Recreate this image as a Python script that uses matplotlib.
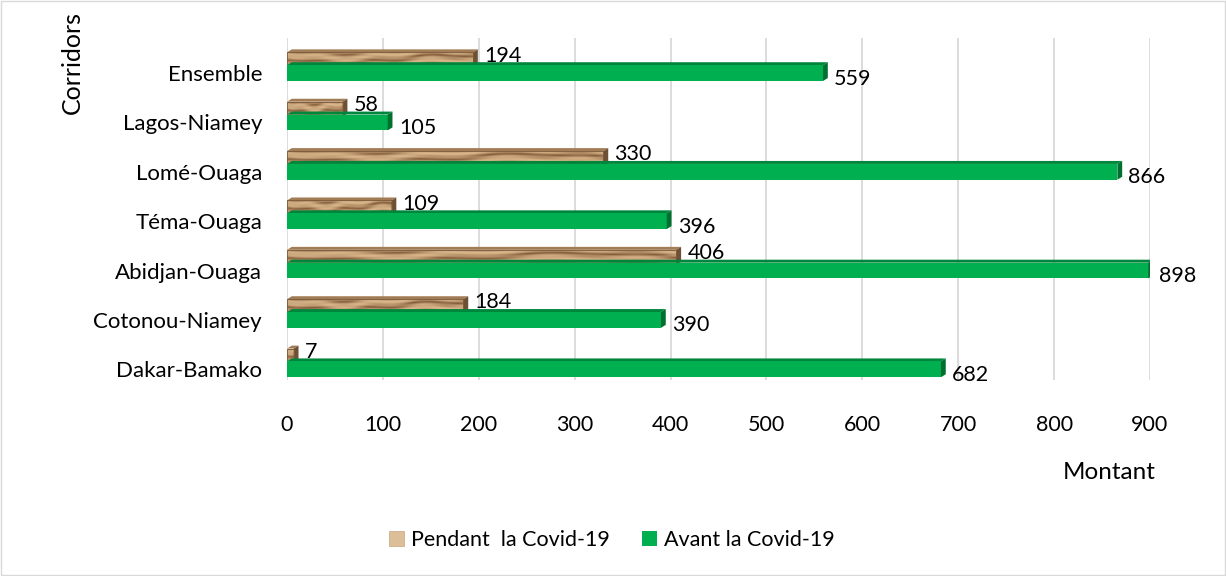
"""Montants par corridor, avant et pendant la Covid-19."""

import matplotlib.pyplot as plt
import numpy as np
from matplotlib.patches import Polygon, Rectangle

plt.rcParams["font.family"] = ["Lato", "DejaVu Sans"]

corridors = ["Dakar-Bamako", "Cotonou-Niamey", "Abidjan-Ouaga", "Téma-Ouaga",
             "Lomé-Ouaga", "Lagos-Niamey", "Ensemble"]
avant = [682, 390, 898, 396, 866, 105, 559]
pendant = [7, 184, 406, 109, 330, 58, 194]

green = "#00b050"
green_dark = "#00863c"
wood_edge = "#7a5a3c"

# wood grain used to fill the "Pendant" bars
gx = np.linspace(0, 60, 600)
gy = np.linspace(0, 1, 40)
GX, GY = np.meshgrid(gx, gy)
grain = np.sin(GY * 9 + 2.5 * np.sin(GX * 0.12) + 0.9 * np.sin(GX * 0.47 + 1.0))
grain += 0.4 * np.sin(GY * 23 + 1.5 * np.sin(GX * 0.3))
wood = np.zeros(grain.shape + (3,))
light = np.array([0.86, 0.72, 0.55])
dark = np.array([0.45, 0.30, 0.17])
t = np.clip((grain + 1.4) / 2.8, 0, 1)
for k in range(3):
    wood[..., k] = dark[k] + (light[k] - dark[k]) * t ** 0.5

fig = plt.figure(figsize=(12.26, 5.76), dpi=100)
ax = fig.add_axes([0.2341, 0.340, 0.7039, 0.594])

y = np.arange(len(corridors))
h_g = 0.32
h_b = 0.30
off_b = 0.27
dx, dy = 5, 0.06

for i, (a, p) in enumerate(zip(avant, pendant)):
    # brown bar (behind)
    yb = y[i] + off_b
    rect = Rectangle((0, yb - h_b / 2), p, h_b, facecolor="none",
                     edgecolor=wood_edge, lw=0.6, zorder=2)
    ax.add_patch(rect)
    im = ax.imshow(wood, extent=(0, max(p, 1) + 60, yb - h_b / 2, yb + h_b / 2),
                   aspect="auto", zorder=1.5, origin="lower", interpolation="bilinear")
    im.set_clip_path(rect)
    ax.add_patch(Polygon([(0, yb + h_b / 2), (p, yb + h_b / 2),
                          (p + dx, yb + h_b / 2 + dy), (dx, yb + h_b / 2 + dy)],
                         closed=True, facecolor="#a27c55", edgecolor="none", zorder=1.6))
    ax.add_patch(Polygon([(p, yb - h_b / 2), (p, yb + h_b / 2),
                          (p + dx, yb + h_b / 2 + dy), (p + dx, yb - h_b / 2 + dy)],
                         closed=True, facecolor="#6e5034", edgecolor="none", zorder=1.6))
    ax.annotate(str(p), (p, yb), xytext=(8, 3), textcoords="offset points",
                ha="left", va="center", fontsize=15.5, color="black", zorder=5)

    # green bar (front)
    ax.barh(y[i], a, height=h_g, color=green, zorder=3)
    top = y[i] + h_g / 2
    ax.add_patch(Polygon([(0, top), (a, top), (a + dx, top + dy), (dx, top + dy)],
                         closed=True, facecolor=green_dark, edgecolor="none", zorder=2.9))
    ax.add_patch(Polygon([(a, y[i] - h_g / 2), (a, top), (a + dx, top + dy),
                          (a + dx, y[i] - h_g / 2 + dy)],
                         closed=True, facecolor="#00702f", edgecolor="none", zorder=3.1))
    ax.annotate(str(a), (a, y[i]), xytext=(8, -4), textcoords="offset points",
                ha="left", va="center", fontsize=15.5, color="black", zorder=5)

ax.set_xlim(0, 900)
ax.set_ylim(-0.22, 6.71)
ax.set_xticks(np.arange(0, 901, 100))
ax.set_yticks(y)
ax.set_yticklabels(corridors)
ax.tick_params(axis="x", length=0, pad=25, labelsize=15.5)
ax.tick_params(axis="y", length=0, pad=18, labelsize=16)
ax.grid(axis="x", color="#d9d9d9", lw=1.3, zorder=0)
ax.set_axisbelow(True)
for s in ax.spines.values():
    s.set_visible(False)

fig.text(0.905, 0.180, "Montant", ha="center", va="center", fontsize=17.5)
fig.text(0.059, 0.892, "Corridors", ha="center", va="center", rotation=90, fontsize=18)

handles = [Rectangle((0, 0), 1, 1, facecolor="#dcbf98", edgecolor="#c9a77c", lw=0.5),
           Rectangle((0, 0), 1, 1, facecolor=green)]
fig.legend(handles, ["Pendant  la Covid-19", "Avant la Covid-19"],
           loc="center", bbox_to_anchor=(0.499, 0.063), ncol=2, frameon=False,
           fontsize=15.5, handlelength=0.7, handleheight=0.7, handletextpad=0.3,
           columnspacing=1.5)

fig.patches.append(Rectangle((0.001, 0.002), 0.998, 0.996, transform=fig.transFigure,
                             fill=False, edgecolor="#d9d9d9", lw=1))

fig.savefig("out.png", dpi=100)
